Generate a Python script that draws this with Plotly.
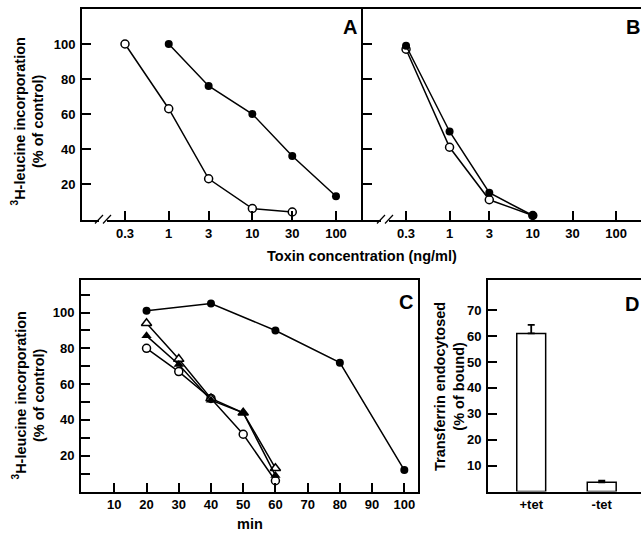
import plotly.graph_objects as go

# ---------------- data ----------------
conc_ticks = [0.3, 1, 3, 10, 30, 100]
conc_ticktext = ["0.3", "1", "3", "10", "30", "100"]

A_filled_x = [1, 3, 10, 30, 100]
A_filled_y = [100, 76, 60, 36, 13]
A_open_x = [0.3, 1, 3, 10, 30]
A_open_y = [100, 63, 23, 6, 4]
A_open_err = [0, 0, 0, 0, 2.5]

B_x = [0.3, 1, 3, 10]
B_filled_y = [99, 50, 15, 2]
B_open_y = [97, 41, 11, 2]

C_time = [20, 30, 40, 50, 60]
C_filled_time = [20, 40, 60, 80, 100]
C_filled_y = [101, 105, 90, 72, 12]
C_open_tri_y = [94, 74, 52, 44, 13]
C_filled_tri_y = [87, 71, 51, 44, 9]
C_open_circ_y = [80, 67, 52, 32, 6]

D_labels = ["+tet", "-tet"]
D_pos = [0, 1]
D_values = [61, 3.6]
D_err = [3.3, 0.6]

y_ticks_AB = [20, 40, 60, 80, 100]
y_ticks_C = [20, 40, 60, 80, 100]
x_ticks_C = [10, 20, 30, 40, 50, 60, 70, 80, 90, 100]
y_ticks_D = [10, 20, 30, 40, 50, 60, 70]

# ---------------- layout helpers ----------------
W, H = 641, 533
FONT = "Liberation Sans"
def px(x):
    return x / W
def py(y):
    return 1 - y / H

tickfont = dict(family=FONT, size=13, color="black", weight="bold")
LW = 1.5

fig = go.Figure()

def line_trace(x, y, xa, ya, symbol, filled, size=8, err=None):
    marker = dict(symbol=symbol, size=size,
                  color="black" if filled else "white",
                  line=dict(color="black", width=0 if filled else 1.5))
    kw = {}
    if err is not None:
        kw["error_y"] = dict(type="data", array=err, visible=True, width=0,
                             color="black", thickness=1.2)
    return go.Scatter(x=x, y=y, xaxis=xa, yaxis=ya, mode="lines+markers",
                      line=dict(color="black", width=LW), marker=marker,
                      showlegend=False, cliponaxis=False, **kw)

# Panel A
fig.add_trace(line_trace(A_open_x, A_open_y, "x", "y", "circle", False, err=A_open_err))
fig.add_trace(line_trace(A_filled_x, A_filled_y, "x", "y", "circle", True))
# Panel B
fig.add_trace(line_trace(B_x, B_open_y, "x2", "y2", "circle", False))
fig.add_trace(line_trace(B_x, B_filled_y, "x2", "y2", "circle", True))
# Panel C
fig.add_trace(line_trace(C_filled_time, C_filled_y, "x3", "y3", "circle", True))
fig.add_trace(line_trace(C_time, C_open_circ_y, "x3", "y3", "circle", False))
fig.add_trace(line_trace(C_time, C_open_tri_y, "x3", "y3", "triangle-up", False, size=9))
fig.add_trace(line_trace(C_time, C_filled_tri_y, "x3", "y3", "triangle-up", True, size=9))
# Panel D
fig.add_trace(go.Bar(x=D_pos, y=D_values, xaxis="x4", yaxis="y4", width=0.41,
                     marker=dict(color="white", line=dict(color="black", width=1.5)),
                     error_y=dict(type="data", symmetric=False, array=D_err,
                                  arrayminus=[0, 0], color="black",
                                  thickness=1.8, width=3.5),
                     showlegend=False))

common_axis = dict(showgrid=False, zeroline=False, showline=True, linecolor="black",
                   linewidth=2, ticks="inside", ticklen=9, tickwidth=1.5,
                   tickcolor="black", tickfont=tickfont)

yA_dom = [py(220), py(9)]
yC_dom = [py(491.5), py(280)]

fig.update_layout(
    width=W, height=H, autosize=False,
    margin=dict(l=0, r=0, t=0, b=0),
    paper_bgcolor="white", plot_bgcolor="white",
    font=dict(family=FONT, color="black"),
    xaxis=dict(common_axis, domain=[px(82), px(363)], type="log",
               range=[-1.037, 2.323], tickmode="array", tickvals=conc_ticks,
               ticktext=conc_ticktext, mirror=True, anchor="y"),
    yaxis=dict(common_axis, domain=yA_dom, range=[-0.57, 120], tickmode="array",
               tickvals=y_ticks_AB, anchor="x", ticklabelstandoff=2),
    xaxis2=dict(common_axis, domain=[px(363), 1.0], type="log",
                range=[-1.04, 2.30], tickmode="array", tickvals=conc_ticks,
                ticktext=conc_ticktext, mirror=True, anchor="y2"),
    yaxis2=dict(common_axis, domain=yA_dom, range=[-0.57, 120], tickmode="array",
                tickvals=y_ticks_AB, showticklabels=False, anchor="x2"),
    xaxis3=dict(common_axis, domain=[px(81), px(418)], range=[-0.34, 104.25],
                tickmode="array", tickvals=x_ticks_C, mirror=True, anchor="y3"),
    yaxis3=dict(common_axis, domain=yC_dom, range=[0, 118.2], tickmode="array",
                tickvals=y_ticks_C, mirror=True, anchor="x3", ticklabelstandoff=2,
                minor=dict(tickmode="linear", tick0=10, dtick=20, ticks="inside",
                           ticklen=9, tickwidth=1.5, tickcolor="black")),
    xaxis4=dict(common_axis, domain=[px(488), 1.0], range=[-0.613, 1.557],
                tickmode="array", tickvals=D_pos, ticktext=D_labels, ticks="",
                mirror=True, anchor="y4"),
    yaxis4=dict(common_axis, domain=[py(491.6), py(280)], range=[0, 81.6],
                tickmode="array", tickvals=y_ticks_D, anchor="x4",
                ticklabelstandoff=2),
)

# ---------------- text ----------------
def ann(text, x, y, size, angle=0):
    fig.add_annotation(text=text, x=px(x), y=py(y), xref="paper", yref="paper",
                       showarrow=False, xanchor="center", yanchor="middle",
                       textangle=angle,
                       font=dict(family=FONT, size=size, color="black", weight="bold"))

ann("A", 350, 27, 20)
ann("B", 633, 27, 20)
ann("C", 406, 302, 20)
ann("D", 632, 304, 20)
ann("Toxin concentration (ng/ml)", 362, 256, 14.5)
ann("min", 250, 524, 14.5)
ann("<sup>3</sup>H-leucine incorporation<br>(% of control)", 27.5, 122, 14.5, -90)
ann("<sup>3</sup>H-leucine incorporation<br>(% of control)", 28.5, 396, 14.5, -90)
ann("Transferrin endocytosed<br>(% of bound)", 449, 387, 14.5, -90)

# ---------------- axis break marks ----------------
def axis_break(x0):
    # white gap then two slashes
    fig.add_shape(type="rect", xref="paper", yref="paper",
                  x0=px(x0 + 4), x1=px(x0 + 12), y0=py(222), y1=py(216.5),
                  fillcolor="white", line=dict(width=0), layer="above")
    for dx in (0, 8):
        fig.add_shape(type="line", xref="paper", yref="paper",
                      x0=px(x0 + dx), y0=py(223.5), x1=px(x0 + dx + 8), y1=py(215),
                      line=dict(color="black", width=1.2), layer="above")

axis_break(95)
axis_break(377)

# remove the default page margin so the 641x533 figure fills the window exactly
fig.write_html("out.html",
               config={"displayModeBar": False},
               post_script="document.body.style.margin='0';"
                           "document.body.style.overflow='hidden';")
